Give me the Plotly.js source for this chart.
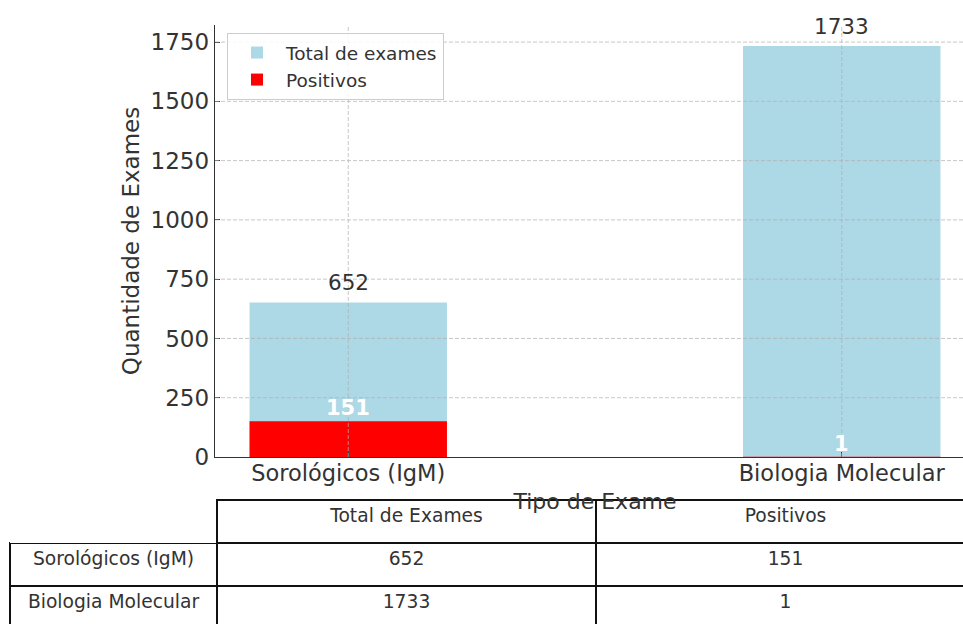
<!DOCTYPE html>
<html>
<head>
<meta charset="utf-8">
<script src="https://cdn.plot.ly/plotly-3.0.1.min.js"></script>
<style>
  html, body { margin: 0; padding: 0; overflow: hidden; background: #fff; }
  #chart { width: 975px; height: 640px; }
</style>
</head>
<body>
<div id="chart"></div>
<script>
// ---- data ----
const categories = ['Sorológicos (IgM)', 'Biologia Molecular'];
const totals = [652, 1733];
const positives = [151, 1];
const yTicks = [0, 250, 500, 750, 1000, 1250, 1500, 1750];
const seriesNames = ['Total de exames', 'Positivos'];
const tableHeader = ['', 'Total de Exames', 'Positivos'];

// ---- style ----
const W = 975, H = 640;
const FONT = 'DejaVu Sans';
const TXT = '#333333';
const BLUE = '#ADD8E6';
const RED = '#FF0000';
const GRID = 'rgba(175,175,175,0.7)';

const traces = [
  {
    type: 'bar', x: categories, y: totals, name: seriesNames[0],
    marker: {color: BLUE}, width: 0.4, xaxis: 'x', yaxis: 'y'
  },
  {
    type: 'bar', x: categories, y: positives, name: seriesNames[1],
    marker: {color: RED}, width: 0.4, xaxis: 'x', yaxis: 'y'
  },
  {
    type: 'table',
    domain: {x: [10 / W, 1], y: [0, 140 / H]},
    columnwidth: [207, 379, 379],
    header: {
      values: tableHeader,
      align: ['center', 'center', 'center'],
      height: 43,
      fill: {color: 'white'},
      line: {color: ['rgba(0,0,0,0)', '#111', '#111'], width: 1.5},
      font: {family: FONT, size: 18.7, color: TXT}
    },
    cells: {
      values: [categories, totals.map(String), positives.map(String)],
      align: ['center', 'center', 'center'],
      height: 43,
      fill: {color: 'white'},
      line: {color: '#111', width: 1.5},
      font: {family: FONT, size: 18.7, color: TXT}
    }
  }
];

const shapes = [];
categories.forEach(c => shapes.push({
  type: 'line', xref: 'x', yref: 'y domain', x0: c, x1: c, y0: 0, y1: 1,
  layer: 'above', line: {color: GRID, width: 1, dash: '4px,2px'}
}));
yTicks.slice(1).forEach(v => shapes.push({
  type: 'line', xref: 'x domain', yref: 'y', x0: 0, x1: 1, y0: v, y1: v,
  layer: 'above', line: {color: GRID, width: 1, dash: '4px,2px'}
}));

const annotations = [];
categories.forEach((c, i) => {
  annotations.push({
    x: c, y: totals[i], xref: 'x', yref: 'y', text: String(totals[i]),
    showarrow: false, yanchor: 'middle', yshift: 20,
    font: {family: FONT, size: 21.5, color: TXT}
  });
  annotations.push({
    x: c, y: positives[i], xref: 'x', yref: 'y', text: '<b>' + positives[i] + '</b>',
    showarrow: false, yanchor: 'middle', yshift: 13,
    font: {family: FONT, size: 21, color: 'white'}
  });
});

const layout = {
  width: W, height: H,
  margin: {l: 0, r: 0, t: 0, b: 0},
  paper_bgcolor: 'white', plot_bgcolor: 'white',
  font: {family: FONT, color: TXT},
  barmode: 'overlay',
  showlegend: true,
  legend: {
    x: 227 / W, y: (H - 33) / H, xanchor: 'left', yanchor: 'top',
    bgcolor: 'rgba(255,255,255,0.85)', bordercolor: '#cccccc', borderwidth: 1,
    font: {family: FONT, size: 18.5, color: TXT}, traceorder: 'normal',
    itemwidth: 48
  },
  xaxis: {
    domain: [215 / W, 1], range: [-0.27, 1.27],
    type: 'category', showgrid: false, zeroline: false,
    showline: true, linecolor: '#333', linewidth: 1.3,
    ticks: 'inside', ticklen: 5, tickcolor: '#333',
    ticklabelstandoff: -4,
    tickfont: {family: FONT, size: 22.5, color: TXT},
    title: {text: 'Tipo de Exame', font: {family: FONT, size: 22, color: TXT}, standoff: 8},
    automargin: false, layer: 'above traces', fixedrange: true
  },
  yaxis: {
    domain: [(H - 457) / H, (H - 25) / H], range: [0, 1822],
    tickvals: yTicks, ticktext: yTicks.map(String),
    showgrid: false, zeroline: false,
    showline: true, linecolor: '#333', linewidth: 1.3,
    ticks: 'inside', ticklen: 5, tickcolor: '#333',
    tickfont: {family: FONT, size: 23, color: TXT},
    title: {text: 'Quantidade de Exames', font: {family: FONT, size: 23, color: TXT}, standoff: 4},
    automargin: false, layer: 'above traces', fixedrange: true
  },
  shapes: shapes,
  annotations: annotations
};

Plotly.newPlot('chart', traces, layout, {displayModeBar: false, staticPlot: true});
</script>
</body>
</html>
